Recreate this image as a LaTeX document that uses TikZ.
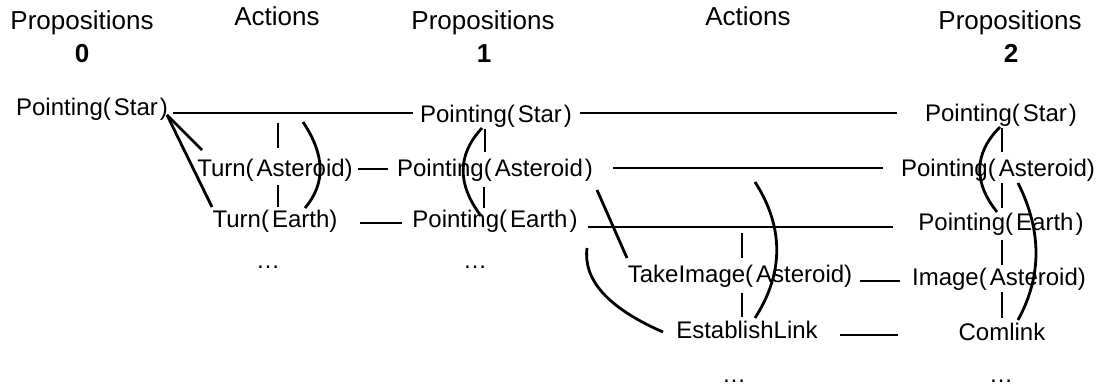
\documentclass[tikz,border=0pt]{standalone}
\usepackage{fontspec}
\setmainfont{Liberation Sans}
\usetikzlibrary{calc}
\tikzset{
  lbl/.style={inner sep=0pt, outer sep=0pt, font=\fontsize{24}{28}\selectfont, text height=17pt, text depth=5pt, anchor=center},
  hdr/.style={inner sep=0pt, anchor=base, font=\fontsize{26}{30}\selectfont},
  num/.style={inner sep=0pt, anchor=base, font=\fontsize{26}{30}\selectfont\bfseries},
  dots/.style={inner sep=0pt, anchor=base, font=\fontsize{24}{28}\selectfont},
  link/.style={line width=2.8pt},
  mutex/.style={line width=2.8pt}
}
\newcommand{\Lp}{(\kern3pt}
\newcommand{\Rp}{\kern2pt)}
\begin{document}
\begin{tikzpicture}[x=1pt,y=-1pt]
\useasboundingbox (0,0) rectangle (1104,390);
% headers
\node[hdr] (h0) at (82,30) {Propositions};
\node[hdr] (h1) at (277,26) {Actions};
\node[hdr] (h2) at (483,30) {Propositions};
\node[hdr] (h3) at (748,26) {Actions};
\node[hdr] (h4) at (1010,30) {Propositions};
\node[num] (n0) at (82,63) {0};
\node[num] (n1) at (484,63) {1};
\node[num] (n2) at (1011,63) {2};
% level 0
\node[lbl] (s0) at (92,110) {Pointing\Lp Star\Rp};
% actions 0
\node[lbl] (tA) at (275,171) {Turn\Lp Asteroid)};
\node[lbl] (tE) at (275,222) {Turn\Lp Earth)};
\node[dots] (dA) at (268,269) {…};
% level 1
\node[lbl] (s1) at (496,117) {Pointing\Lp Star\Rp};
\node[lbl] (a1) at (495,171) {Pointing\Lp Asteroid\Rp};
\node[lbl] (e1) at (495,222) {Pointing\Lp Earth\Rp};
\node[dots] (d1) at (475,269) {…};
% actions 1
\node[lbl] (ti) at (740,277) {TakeImage\Lp Asteroid)};
\node[lbl] (el) at (747,332) {EstablishLink};
\node[dots] (dB) at (734,382) {…};
% level 2
\node[lbl] (s2) at (1001,116) {Pointing\Lp Star\Rp};
\node[lbl] (a2) at (998,171) {Pointing\Lp Asteroid)};
\node[lbl] (e2) at (1001,225) {Pointing\Lp Earth\Rp};
\node[lbl] (im) at (999,280) {Image\Lp Asteroid)};
\node[lbl] (cl) at (1002,335) {Comlink};
\node[dots] (d2) at (1001,382) {…};
% persistence and effect links
\draw[link] ($(s0)+(81,3)$) -- ($(s1)+(-83,-4)$);
\draw[link] ($(s1)+(84,-4)$) -- ($(s2)+(-104,-3)$);
\draw[link] ($(tA)+(83,-2)$) -- ($(a1)+(-107,-2)$);
\draw[link] ($(tE)+(85,1)$) -- ($(e1)+(-93,1)$);
\draw[link] ($(a1)+(118,-3)$) -- ($(a2)+(-115,-3)$);
\draw[link] ($(e1)+(93,5)$) -- ($(e2)+(-108,2)$);
\draw[link] ($(ti)+(120,4)$) -- ($(im)+(-99,1)$);
\draw[link] ($(el)+(93,3)$) -- ($(cl)+(-104,0)$);
% precondition links
\draw[link] ($(s0)+(75,5)$) -- ($(tA)+(-73,-21)$);
\draw[link] ($(s0)+(75,5)$) -- ($(tE)+(-63,-15)$);
\draw[link] ($(a1)+(102,19)$) -- ($(ti)+(-113,-19)$);
\draw[link] ($(e1)+(92,26)$) .. controls (583,280) and (608,308) .. ($(el)+(-84,0)$);
% mutex marks
\draw[mutex] (278,123) -- (278,148);
\draw[mutex] (278,185) -- (278,207);
\draw[mutex] (303,122) .. controls (325,155) and (326,183) .. (305,208);
\draw[mutex] (485,129) -- (485,152);
\draw[mutex] (484,187) -- (484,208);
\draw[mutex] (482,128) .. controls (457,155) and (457,184) .. (481,216);
\draw[mutex] (742,233) -- (742,258);
\draw[mutex] (742,293) -- (742,317);
\draw[mutex] (755,182) .. controls (784,227) and (784,273) .. (755,318);
\draw[mutex] (1002,128) -- (1002,152);
\draw[mutex] (1002,183) -- (1002,208);
\draw[mutex] (1002,240) -- (1002,265);
\draw[mutex] (1002,292) -- (1002,318);
\draw[mutex] (1000,127) .. controls (974,153) and (973,182) .. (997,212);
\draw[mutex] (1018,183) .. controls (1042,231) and (1042,276) .. (1018,320);
\end{tikzpicture}
\end{document}
